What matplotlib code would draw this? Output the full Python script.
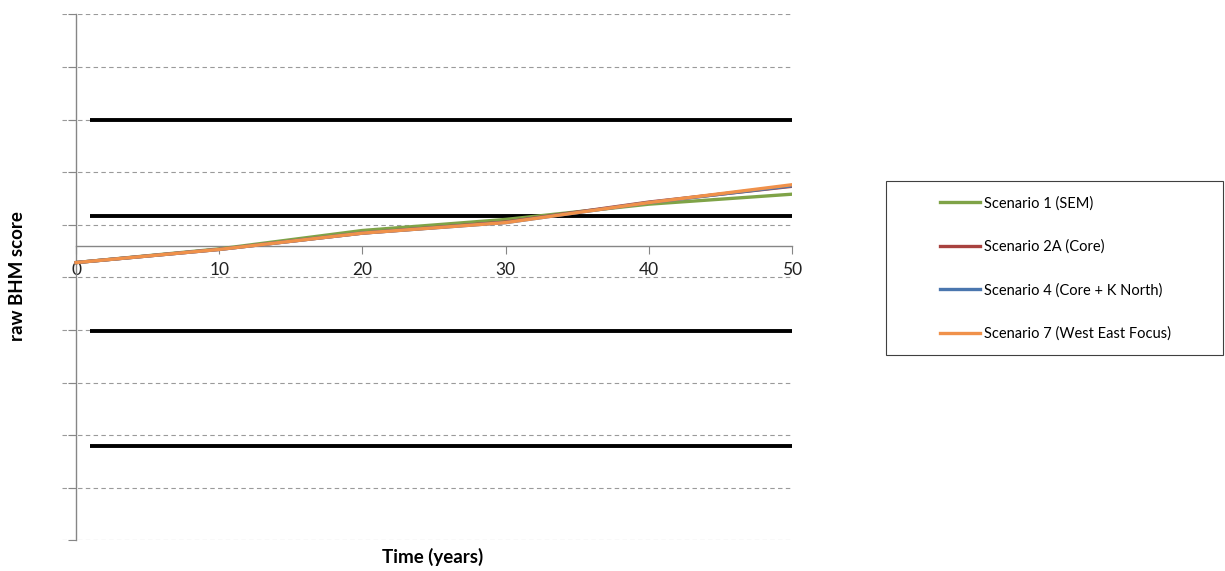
import matplotlib
matplotlib.use("Agg")
import matplotlib.pyplot as plt
from matplotlib.lines import Line2D
from matplotlib.patches import Rectangle

plt.rcParams['font.family'] = ['Lato', 'DejaVu Sans']

# ---- data ----
years = [0, 10, 20, 30, 40, 50]
scenario_names = ["Scenario 1 (SEM)", "Scenario 2A (Core)",
                  "Scenario 4 (Core + K North)", "Scenario 7 (West East Focus)"]
s1 = [-0.32, -0.06, 0.29, 0.50, 0.79, 0.98]
s2a = [-0.32, -0.07, 0.24, 0.45, 0.83, 1.13]
s4 = [-0.32, -0.07, 0.24, 0.44, 0.82, 1.14]
s7 = [-0.32, -0.07, 0.24, 0.44, 0.82, 1.16]
threshold_years = [1, 50]
thresholds = [2.4, 0.565, -1.63, -3.81]
y_gridlines = [4.4, 3.4, 2.4, 1.4, 0.4, -0.6, -1.6, -2.6, -3.6, -4.6, -5.6]
x_ticks = [0, 10, 20, 30, 40, 50]

colors = ["#7FA347", "#A8423F", "#4A76AE", "#F0914A"]

W, H = 1225, 571
fig = plt.figure(figsize=(W / 100, H / 100), dpi=100)
ax_left, ax_right, ax_top, ax_bot = 62, 792, 14.3, 540.3
ax = fig.add_axes([ax_left / W, 1 - ax_bot / H, (ax_right - ax_left) / W, (ax_bot - ax_top) / H])

ax.set_xlim(-0.98, 50)
ax.set_ylim(y_gridlines[-1], y_gridlines[0])

# gridlines
for g in y_gridlines:
    ax.axhline(g, color="#9a9a9a", lw=0.8, ls=(0, (4, 3)), zorder=1)

# thresholds
for t in thresholds:
    ax.plot(threshold_years, [t, t], color="black", lw=2.8, zorder=3, solid_capstyle='butt')

series = [s1, s2a, s4, s7]
for vals, c, name in zip(series, colors, scenario_names):
    ax.plot(years, vals, color=c, lw=2.4, zorder=4, label=name)

# spines
for s in ["top", "right"]:
    ax.spines[s].set_visible(False)
ax.spines["left"].set_position(("data", 0))
ax.spines["left"].set_color("#868686")
ax.spines["left"].set_linewidth(1.0)
ax.spines["bottom"].set_position(("data", 0))
ax.spines["bottom"].set_bounds(0, 50)
ax.spines["bottom"].set_color("#868686")
ax.spines["bottom"].set_linewidth(1.0)

ax.set_yticks(y_gridlines)
ax.set_yticklabels([])
ax.tick_params(axis="y", direction="out", length=6, color="#868686", width=0.8)
ax.set_xticks(x_ticks)
ax.set_xticklabels([str(v) for v in x_ticks])
ax.tick_params(axis="x", direction="out", length=6, color="#868686", width=0.8,
               pad=6, labelsize=12.5, labelcolor="#222222")
ax.patch.set_visible(False)

fig.text(18 / W, 1 - 276 / H, "raw BHM score", rotation=90, ha="center", va="center",
         fontsize=13.5, fontweight="bold")
fig.text(433 / W, 1 - 557 / H, "Time (years)", ha="center", va="center",
         fontsize=13.5, fontweight="bold")

# legend
lx0, ly0, lx1, ly1 = 886, 181, 1223, 355
fig.patches.append(Rectangle((lx0 / W, 1 - ly1 / H), (lx1 - lx0) / W, (ly1 - ly0) / H,
                             transform=fig.transFigure, fill=False, edgecolor="#404040",
                             lw=0.8, figure=fig))
handles = [Line2D([], [], color=c, lw=2.4) for c in colors]
fig.legend(handles, scenario_names, loc="upper left",
           bbox_to_anchor=(940 / W, 1 - 196 / H), frameon=False, fontsize=10.5,
           handlelength=2.75, handletextpad=0.25, labelspacing=2.0, borderpad=0,
           borderaxespad=0)

fig.savefig("out.png", dpi=100)
